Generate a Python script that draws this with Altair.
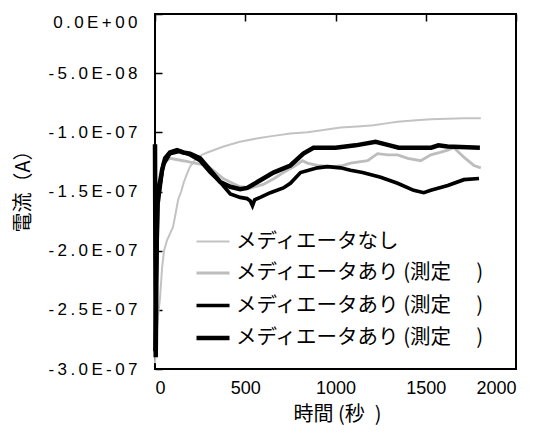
import json
import altair as alt
import pandas as pd

# ---------------- data (values in units of 1e-7 A) ----------------
series_keys = ["s0", "s1", "s2", "s3"]
series_labels = [
    "メディエータなし",
    "メディエータあり (測定\u3000 )",
    "メディエータあり (測定\u3000 )",
    "メディエータあり (測定\u3000 )",
]
series_colors = ["#c3c3c3", "#bdbdbd", "#000000", "#000000"]
series_widths = [2.0, 4.5, 1.5, 3.6]

t_none = [0, 8, 17, 28, 39, 50, 67, 85, 100, 115, 128, 145, 160, 175, 194, 233, 290,
          380, 470, 570, 656, 750, 844, 933, 1028, 1122, 1211, 1300, 1344, 1430, 1528,
          1620, 1711, 1805]
v_none = [-2.95, -2.72, -2.55, -2.40, -2.15, -2.00, -1.91, -1.85, -1.80, -1.68, -1.57,
          -1.50, -1.42, -1.36, -1.29, -1.21, -1.17, -1.12, -1.08, -1.05, -1.03, -1.01,
          -1.00, -0.98, -0.96, -0.95, -0.94, -0.92, -0.91, -0.90, -0.89, -0.885, -0.88,
          -0.88]

t_m1 = [0, 8, 20, 44, 83, 156, 220, 289, 330, 378, 430, 472, 528, 600, 660, 711, 770,
        817, 844, 900, 989, 1044, 1083, 1178, 1233, 1290, 1344, 1400, 1472, 1528, 1580,
        1622, 1656, 1711, 1767, 1805]
v_m1 = [-2.85, -2.2, -1.60, -1.26, -1.22, -1.24, -1.26, -1.28, -1.33, -1.39, -1.43,
        -1.46, -1.47, -1.44, -1.39, -1.34, -1.29, -1.24, -1.26, -1.28, -1.29, -1.28,
        -1.26, -1.24, -1.18, -1.19, -1.19, -1.22, -1.24, -1.19, -1.17, -1.15, -1.13,
        -1.21, -1.28, -1.30]

t_m2 = [0, 6, 17, 44, 83, 139, 194, 250, 306, 361, 417, 472, 510, 528, 540, 552, 583,
        639, 711, 750, 806, 900, 956, 1028, 1083, 1150, 1250, 1344, 1433, 1489, 1528,
        1622, 1711, 1795]
v_m2 = [-2.85, -2.3, -1.60, -1.28, -1.18, -1.16, -1.19, -1.24, -1.34, -1.42, -1.52,
        -1.55, -1.56, -1.58, -1.62, -1.57, -1.55, -1.51, -1.47, -1.43, -1.34, -1.30,
        -1.29, -1.30, -1.32, -1.34, -1.38, -1.43, -1.49, -1.51, -1.49, -1.45, -1.40,
        -1.39]

t_m3 = [0, 4, 11, 39, 56, 83, 122, 156, 194, 250, 306, 361, 417, 472, 511, 567, 656,
        750, 822, 878, 1000, 1111, 1222, 1300, 1350, 1530, 1570, 1620, 1800]
v_m3 = [-1.10, -2.90, -1.57, -1.32, -1.22, -1.17, -1.15, -1.17, -1.18, -1.22, -1.32,
        -1.42, -1.46, -1.48, -1.47, -1.42, -1.34, -1.28, -1.18, -1.13, -1.13, -1.11,
        -1.08, -1.11, -1.13, -1.13, -1.11, -1.12, -1.13]

x_ticks = [0, 500, 1000, 1500, 2000]
y_ticks = [0, -5e-8, -1e-7, -1.5e-7, -2e-7, -2.5e-7, -3e-7]
y_tick_labels = ["0.0E+00", "-5.0E-08", "-1.0E-07", "-1.5E-07", "-2.0E-07",
                 "-2.5E-07", "-3.0E-07"]

x_title = "時間 (秒\u2002)"
y_title = "電流（A）"

# ---------------- build table ----------------
rows = []
for key, ts, vs in zip(series_keys, [t_none, t_m1, t_m2, t_m3],
                       [v_none, v_m1, v_m2, v_m3]):
    for t, v in zip(ts, vs):
        rows.append({"t": t, "I": v * 1e-7, "series": key})
df = pd.DataFrame(rows)
tick_df = pd.DataFrame({"t": x_ticks})

y_disp = ["\u2009".join(s) for s in y_tick_labels]
y_label_expr = f"{json.dumps(y_disp, ensure_ascii=False)}[round(-datum.value/5e-8)]"
legend_label_expr = (f"{json.dumps(series_labels, ensure_ascii=False)}"
                     f"[indexof({json.dumps(series_keys)}, datum.value)]")

xs = alt.Scale(domain=[0, 2000], nice=False, zero=False)
ys = alt.Scale(domain=[-3e-7, 0], nice=False, zero=False)

legend = alt.Legend(
    title=None, orient="none", legendX=39, legendY=210, direction="vertical",
    padding=0, symbolType="stroke", symbolSize=1089, labelExpr=legend_label_expr,
    labelFont="Noto Sans CJK JP", labelFontSize=20.5, labelColor="#000000",
    labelOffset=4, rowPadding=3, labelLimit=400,
)

lines = alt.Chart(df).mark_line().encode(
    x=alt.X("t:Q", scale=xs, axis=alt.Axis(
        orient="bottom", values=x_ticks, format="d", ticks=False, tickSize=0,
        domain=False, grid=False, labelFont="Liberation Sans", labelFontSize=18,
        labelColor="#000000", labelBaseline="middle", labelPadding=19,
        title=x_title, titleFont="Noto Sans CJK JP", titleFontSize=20,
        titleFontWeight="normal", titleColor="#000000", titleBaseline="middle",
        titleX=182, titleY=45)),
    y=alt.Y("I:Q", scale=ys, axis=alt.Axis(
        orient="left", values=y_ticks, offset=-7, tickSize=7, tickWidth=1.5,
        tickColor="#000000", domain=False, grid=False, labelExpr=y_label_expr,
        labelFont="Liberation Sans", labelFontSize=17, labelColor="#000000",
        labelPadding=18,
        labelBaseline={"condition": {"test": "datum.value == 0", "value": "top"},
                       "value": "middle"},
        title=y_title, titleFont="Noto Sans CJK JP", titleFontSize=20,
        titleFontWeight="normal", titleColor="#000000", titleAngle=270,
        titleBaseline="middle", titleAlign="center", titleX=-139, titleY=172)),
    color=alt.Color("series:N", scale=alt.Scale(domain=series_keys,
                                                 range=series_colors), legend=legend),
    strokeWidth=alt.StrokeWidth("series:N", scale=alt.Scale(domain=series_keys,
                                                             range=series_widths),
                                legend=legend),
)

top_ticks = alt.Chart(tick_df).mark_point(opacity=0).encode(
    x=alt.X("t:Q", scale=xs, axis=alt.Axis(
        orient="top", values=x_ticks, offset=-7, tickSize=7, tickWidth=1.5,
        tickColor="#000000", labels=False, domain=False, grid=False, title=None)),
)

chart = alt.layer(lines, top_ticks).resolve_axis(x="independent").properties(
    width=361, height=355,
    padding={"left": 147, "top": 6, "right": 16, "bottom": 60},
    autosize=alt.AutoSizeParams(type="none"),
    background="#ffffff",
).configure_view(stroke="#000000", strokeWidth=2)

chart.save("out.html", embed_options={"renderer": "svg", "actions": False})
